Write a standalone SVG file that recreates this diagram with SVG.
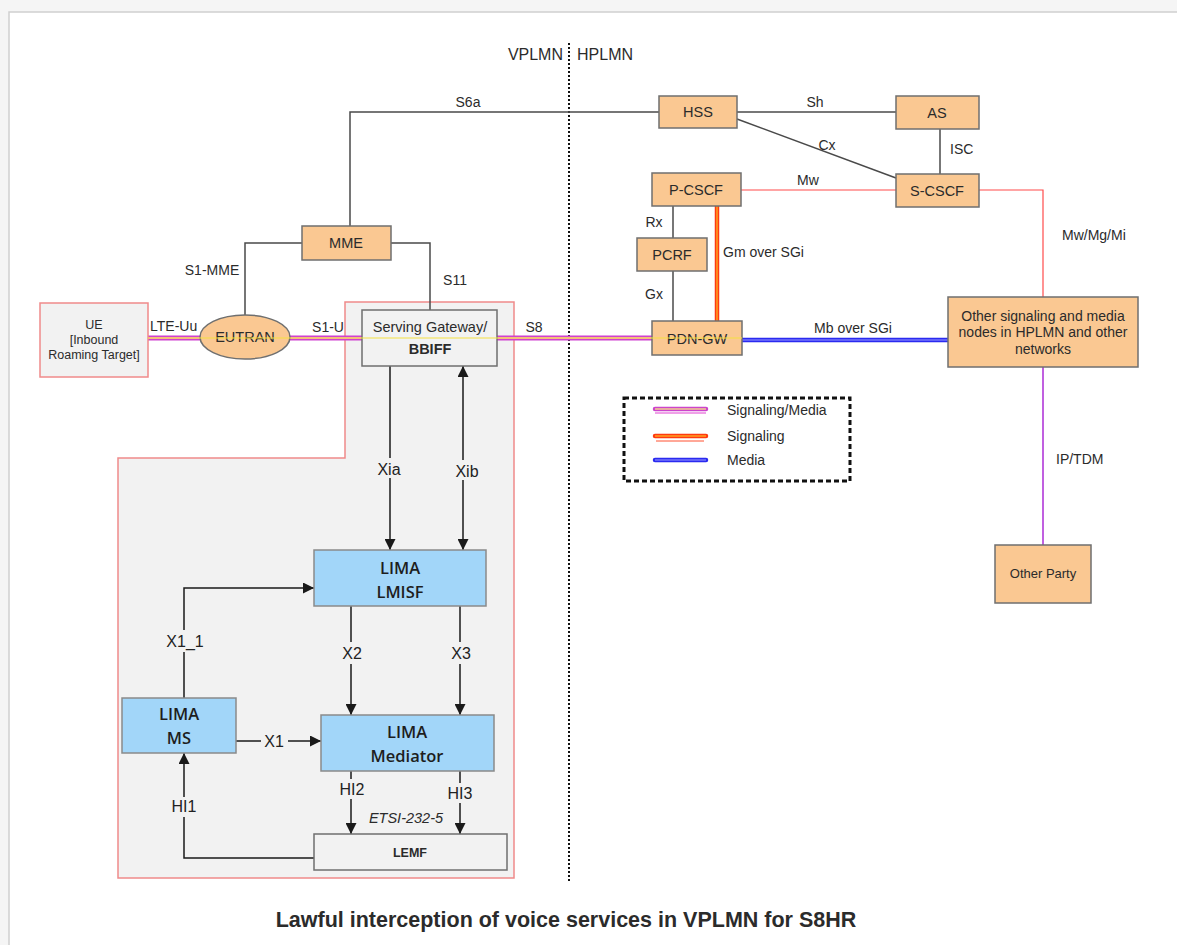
<svg xmlns="http://www.w3.org/2000/svg" width="1177" height="945" viewBox="0 0 1177 945">
<style>
text{font-family:"Liberation Sans",Arial,sans-serif;fill:#2b2b2b}
.l{font-size:14px}
.c{text-anchor:middle}
.bt{font-size:14.5px}
.x{font-size:16px;fill:#222}
.box{fill:#fac892;stroke:#6f6f6f;stroke-width:1.5}
.grey{fill:#f2f2f2;stroke:#6f6f6f;stroke-width:1.5}
.blue{fill:#a2d6f9;stroke:#8a8a8a;stroke-width:1.5}
.lima{font-family:"Open Sans","Noto Sans",sans-serif;font-weight:600;font-size:16.5px;fill:#1e1e1e}
.ln{fill:none;stroke:#4a4a4a;stroke-width:1.5}
.ar{fill:none;stroke:#1a1a1a;stroke-width:1.5}
.red{fill:none;stroke:#ff4b4b;stroke-width:1.2}
.sm1{fill:none;stroke:#d040d0;stroke-width:5}
.sm2{fill:none;stroke:#f2a0b0;stroke-width:2}
.yel{fill:none;stroke:#f4e040;stroke-width:1.2}
.sg1{fill:none;stroke:#ff3a10;stroke-width:4.5}
.sg2{fill:none;stroke:#ffa020;stroke-width:1.5}
.md1{fill:none;stroke:#2a2af0;stroke-width:4.5}
.md2{fill:none;stroke:#9a9aff;stroke-width:1.2}
</style>
<defs>
<marker id="arr2" viewBox="0 0 10 10" refX="10" refY="5" markerWidth="11" markerHeight="11" markerUnits="userSpaceOnUse" orient="auto-start-reverse">
<path d="M0,0 L10,5 L0,10 z" fill="#1a1a1a"/>
</marker>
</defs>
<rect x="0" y="0" width="1177" height="945" fill="#f5f5f5"/>
<rect x="9" y="12" width="1170" height="935" fill="#ffffff" stroke="#cfcfcf" stroke-width="1.5"/>

<polygon id="vplmn-li-region" points="345,302 514,302 514,878 118,878 118,458 345,458" fill="#f2f2f2" stroke="#f08a8a" stroke-width="1.5"/>

<line x1="569" y1="43" x2="569" y2="881" stroke="#111" stroke-width="2" stroke-dasharray="2,2"/>
<text x="563" y="60" text-anchor="end" font-size="16">VPLMN</text>
<text x="577" y="60" font-size="16">HPLMN</text>

<g id="connectors">
<polyline class="ln" points="659,112 350,112 350,226"/>
<text class="l c" x="468" y="107">S6a</text>
<line class="ln" x1="737" y1="112" x2="896" y2="112"/>
<text class="l c" x="815" y="107">Sh</text>
<line class="ln" x1="737" y1="119" x2="896" y2="178"/>
<text class="l c" x="827" y="150">Cx</text>
<line class="ln" x1="940" y1="129" x2="940" y2="174"/>
<text class="l" x="950" y="154">ISC</text>
<line class="red" x1="741" y1="190" x2="896" y2="190"/>
<text class="l c" x="808" y="185">Mw</text>
<polyline class="red" points="979,190 1043,190 1043,297"/>
<text class="l" x="1062" y="240">Mw/Mg/Mi</text>
<line class="ln" x1="673" y1="206" x2="673" y2="238"/>
<text class="l c" x="654" y="227">Rx</text>
<line class="ln" x1="673" y1="271" x2="673" y2="321"/>
<text class="l c" x="654" y="299">Gx</text>
<polyline class="ln" points="302,243 245,243 245,315"/>
<text class="l c" x="212" y="275">S1-MME</text>
<polyline class="ln" points="391,243 430,243 430,310"/>
<text class="l c" x="455" y="285">S11</text>
<line x1="1043" y1="367" x2="1043" y2="545" stroke="#c060e0" stroke-width="2"/>
<text class="l" x="1056" y="464">IP/TDM</text>

<line class="ar" x1="390" y1="366" x2="390" y2="550" marker-end="url(#arr2)"/>
<rect x="376" y="458" width="28" height="20" fill="#f2f2f2"/>
<text class="x c" x="389" y="475">Xia</text>
<line class="ar" x1="463" y1="366" x2="463" y2="550" marker-start="url(#arr2)" marker-end="url(#arr2)"/>
<rect x="450" y="460" width="28" height="20" fill="#f2f2f2"/>
<text class="x c" x="467" y="477">Xib</text>

<polyline class="ar" points="184,698 184,588 314,588" marker-end="url(#arr2)"/>
<rect x="164" y="630" width="42" height="22" fill="#f2f2f2"/>
<text class="x c" x="185" y="647">X1_1</text>

<line class="ar" x1="351" y1="606" x2="351" y2="715" marker-end="url(#arr2)"/>
<rect x="338" y="642" width="28" height="22" fill="#f2f2f2"/>
<text class="x c" x="352" y="659">X2</text>
<line class="ar" x1="460" y1="606" x2="460" y2="715" marker-end="url(#arr2)"/>
<rect x="446" y="642" width="28" height="22" fill="#f2f2f2"/>
<text class="x c" x="461" y="659">X3</text>

<line class="ar" x1="236" y1="741" x2="321" y2="741" marker-end="url(#arr2)"/>
<rect x="261" y="731" width="27" height="20" fill="#f2f2f2"/>
<text class="x c" x="274" y="747">X1</text>

<line class="ar" x1="351" y1="771" x2="351" y2="834" marker-end="url(#arr2)"/>
<rect x="337" y="779" width="30" height="20" fill="#f2f2f2"/>
<text class="x c" x="352" y="795">HI2</text>
<line class="ar" x1="460" y1="771" x2="460" y2="834" marker-end="url(#arr2)"/>
<rect x="445" y="783" width="30" height="20" fill="#f2f2f2"/>
<text class="x c" x="460" y="799">HI3</text>
<text class="c" x="406" y="823" font-size="14.5" font-style="italic" fill="#222">ETSI-232-5</text>

<polyline class="ar" points="314,858 184,858 184,753" marker-end="url(#arr2)"/>
<rect x="170" y="797" width="30" height="20" fill="#f2f2f2"/>
<text class="x c" x="184" y="812">HI1</text>

<line class="sg1" x1="717" y1="206" x2="717" y2="330"/>
<line class="sg2" x1="717" y1="206" x2="717" y2="330"/>
<text class="l" x="723" y="257">Gm over SGi</text>

<line class="md1" x1="742" y1="340" x2="948" y2="340"/>
<line class="md2" x1="742" y1="340" x2="948" y2="340"/>
<text class="l c" x="853" y="333">Mb over SGi</text>
</g>

<g id="sigmedia">
<line class="sm1" x1="148" y1="338" x2="200" y2="338"/>
<line class="sm1" x1="290" y1="338" x2="362" y2="338"/>
<line class="sm1" x1="497" y1="338" x2="652" y2="338"/>
<line class="sm2" x1="148" y1="338" x2="200" y2="338"/>
<line class="sm2" x1="290" y1="338" x2="362" y2="338"/>
<line class="sm2" x1="497" y1="338" x2="652" y2="338"/>
<text class="l" x="150" y="331">LTE-Uu</text>
<text class="l c" x="328" y="332">S1-U</text>
<text class="l c" x="534" y="332">S8</text>
</g>

<g id="ue">
<rect x="40" y="303" width="108" height="74" fill="#f2f2f2" stroke="#f08a8a" stroke-width="1.5"/>
<text class="c" x="94" y="329" font-size="12.5">UE</text>
<text class="c" x="94" y="344" font-size="12.5">[Inbound</text>
<text class="c" x="94" y="359" font-size="12.5">Roaming Target]</text>
</g>
<g id="eutran">
<ellipse cx="245" cy="337" rx="45" ry="22" class="box"/>
<text class="c bt" x="245" y="342">EUTRAN</text>
</g>
<g id="mme">
<rect x="302" y="226" width="89" height="34" class="box"/>
<text class="c bt" x="346" y="248">MME</text>
</g>
<g id="sgw">
<rect x="362" y="310" width="135" height="56" class="grey"/>
<text class="c bt" x="430" y="332">Serving Gateway/</text>
<text class="c bt" x="430" y="354" font-weight="bold">BBIFF</text>
</g>
<g id="hss">
<rect x="659" y="96" width="78" height="32" class="box"/>
<text class="c bt" x="698" y="117">HSS</text>
</g>
<g id="as">
<rect x="896" y="96" width="83" height="33" class="box"/>
<text class="c bt" x="937" y="118">AS</text>
</g>
<g id="scscf">
<rect x="896" y="174" width="83" height="33" class="box"/>
<text class="c bt" x="937" y="196">S-CSCF</text>
</g>
<g id="pcscf">
<rect x="652" y="173" width="89" height="33" class="box"/>
<text class="c bt" x="696" y="195">P-CSCF</text>
</g>
<g id="pcrf">
<rect x="637" y="238" width="70" height="33" class="box"/>
<text class="c bt" x="672" y="260">PCRF</text>
</g>
<g id="pdngw">
<rect x="652" y="321" width="90" height="34" class="box"/>
<text class="c bt" x="697" y="344">PDN-GW</text>
</g>
<g id="other-nodes">
<rect x="948" y="297" width="190" height="70" class="box"/>
<text class="c" x="1043" y="321" font-size="14">Other signaling and media</text>
<text class="c" x="1043" y="337" font-size="14">nodes in HPLMN and other</text>
<text class="c" x="1043" y="354" font-size="14">networks</text>
</g>
<g id="other-party">
<rect x="995" y="545" width="96" height="58" class="box"/>
<text class="c" x="1043" y="578" font-size="13">Other Party</text>
</g>

<line class="yel" x1="148" y1="338" x2="742" y2="338"/>

<g id="lmisf">
<rect x="314" y="550" width="172" height="56" class="blue"/>
<text class="lima c" x="400" y="574">LIMA</text>
<text class="lima c" x="400" y="598">LMISF</text>
</g>
<g id="ms">
<rect x="122" y="698" width="114" height="55" class="blue"/>
<text class="lima c" x="179" y="720">LIMA</text>
<text class="lima c" x="179" y="744">MS</text>
</g>
<g id="mediator">
<rect x="321" y="715" width="173" height="56" class="blue"/>
<text class="lima c" x="407" y="738">LIMA</text>
<text class="lima c" x="407" y="762">Mediator</text>
</g>
<g id="lemf">
<rect x="314" y="834" width="193" height="36" class="grey"/>
<text class="c" x="410" y="857" font-size="12.5" font-weight="bold">LEMF</text>
</g>

<g id="legend">
<rect x="624" y="398" width="226" height="83" fill="none" stroke="#111" stroke-width="3" stroke-dasharray="5,3"/>
<line x1="655" y1="413" x2="706" y2="413" stroke="#f0a0e8" stroke-width="2"/>
<line x1="655" y1="409" x2="706" y2="409" stroke="#cc44cc" stroke-width="4.5" stroke-linecap="round"/>
<line x1="655" y1="409" x2="706" y2="409" stroke="#f0d090" stroke-width="1.5"/>
<text x="727" y="415" font-size="14">Signaling/Media</text>
<line x1="656" y1="441" x2="704" y2="441" stroke="#ff5030" stroke-width="1"/>
<line x1="655" y1="436" x2="706" y2="436" class="sg1" stroke-linecap="round"/>
<line x1="655" y1="436" x2="706" y2="436" class="sg2"/>
<text x="727" y="441" font-size="14">Signaling</text>
<line x1="655" y1="460" x2="706" y2="460" class="md1" stroke-linecap="round"/>
<line x1="655" y1="460" x2="706" y2="460" class="md2"/>
<text x="727" y="465" font-size="14">Media</text>
</g>

<text class="c" x="566" y="927" font-size="21.5" font-weight="bold" fill="#111">Lawful interception of voice services in VPLMN for S8HR</text>
</svg>
